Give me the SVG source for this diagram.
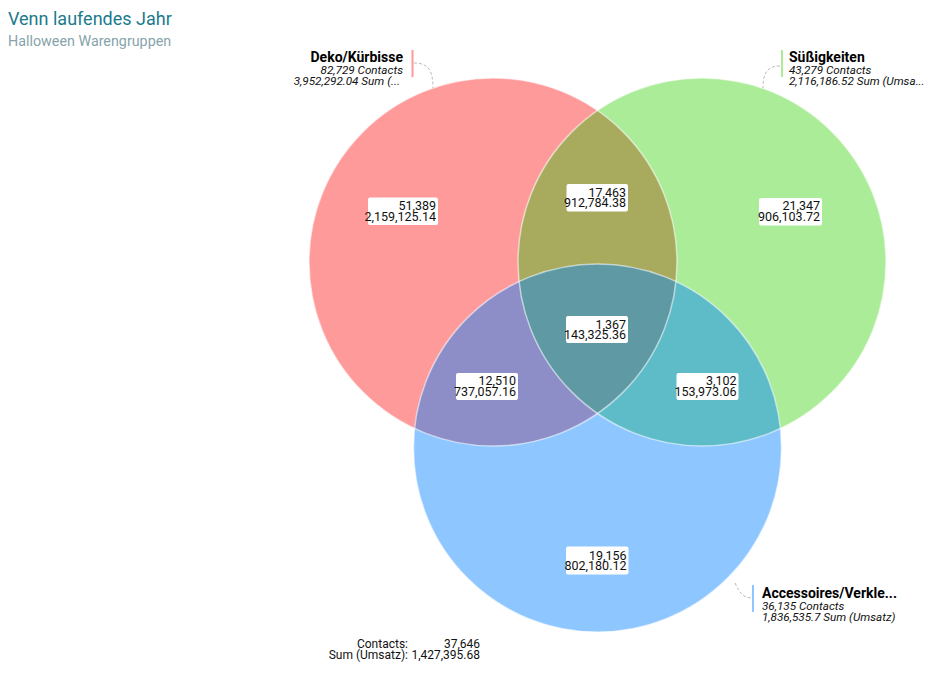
<svg xmlns="http://www.w3.org/2000/svg" width="945" height="675" viewBox="0 0 945 675">
<style>
text{font-family:Roboto,"Liberation Sans",sans-serif}
.title{font-size:18px;fill:#1b7a8c}
.sub{font-size:14.3px;fill:#86a4ab}
.box{fill:#fff}
.val{font-size:12.5px;fill:#111;text-anchor:end}
.lname{font-size:14px;font-weight:bold;fill:#000}
.lsub{font-size:11.7px;font-style:italic;fill:#111}
.outline{fill:none;stroke:#fff;stroke-opacity:0.55;stroke-width:1.5}
.conn{fill:none;stroke:#bbb;stroke-width:1;stroke-dasharray:3,2}
.foot{font-size:12px;fill:#111;text-anchor:end}
</style>
<rect width="945" height="675" fill="#fff"/>
<text class="title" x="8" y="25">Venn laufendes Jahr</text>
<text class="sub" x="8" y="46">Halloween Warengruppen</text>

<g id="venn-areas">
<circle id="set-deko" cx="493" cy="262" r="184" fill="#ff9a9a"/>
<circle id="set-suess" cx="702" cy="262" r="184" fill="#aaec97"/>
<circle id="set-acc" cx="597.5" cy="448" r="184" fill="#8ec6ff"/>
<path id="int-deko-suess" d="M597.5,110.6 A184,184 0 0 1 597.5,413.4 A184,184 0 0 1 597.5,110.6 Z" fill="#a8ab5e"/>
<path id="int-deko-acc" d="M675.9,281.6 A184,184 0 0 1 414.5,428.4 A184,184 0 0 1 675.9,281.6 Z" fill="#8d8dc8"/>
<path id="int-suess-acc" d="M519.1,281.6 A184,184 0 0 0 780.5,428.4 A184,184 0 0 0 519.1,281.6 Z" fill="#5ebcc9"/>
<path id="int-all" d="M519.1,281.6 A184,184 0 0 1 675.9,281.6 A184,184 0 0 1 597.5,413.4 A184,184 0 0 1 519.1,281.6 Z" fill="#5f99a3"/>
<circle class="outline" cx="493" cy="262" r="184"/>
<circle class="outline" cx="702" cy="262" r="184"/>
<circle class="outline" cx="597.5" cy="448" r="184"/>
</g>

<g id="connectors">
<path class="conn" d="M414,63 C428,63 433,70 433,88"/>
<path class="conn" d="M780,66 C768,66 763,72 763,88"/>
<path class="conn" d="M735,583 C740,594 744,598 752,598"/>
</g>

<g id="label-deko-only"><rect class="box" x="368" y="197.5" width="70" height="27.5" rx="2"/><text class="val" x="436" y="210">51,389</text><text class="val" x="436" y="220.5">2,159,125.14</text></g>
<g id="label-deko-suess"><rect class="box" x="566.5" y="184" width="61.5" height="27.5" rx="2"/><text class="val" x="626" y="196.5">17,463</text><text class="val" x="626" y="207">912,784.38</text></g>
<g id="label-suess-only"><rect class="box" x="759" y="198" width="63" height="27.5" rx="2"/><text class="val" x="820" y="210">21,347</text><text class="val" x="820" y="220.5">906,103.72</text></g>
<g id="label-all"><rect class="box" x="566" y="316" width="62" height="27" rx="2"/><text class="val" x="626" y="328.5">1,367</text><text class="val" x="626" y="339">143,325.36</text></g>
<g id="label-deko-acc"><rect class="box" x="456" y="373" width="62" height="27" rx="2"/><text class="val" x="516" y="385">12,510</text><text class="val" x="516" y="395.5">737,057.16</text></g>
<g id="label-suess-acc"><rect class="box" x="676.5" y="373" width="62" height="27" rx="2"/><text class="val" x="736.5" y="385">3,102</text><text class="val" x="736.5" y="395.5">153,973.06</text></g>
<g id="label-acc-only"><rect class="box" x="566" y="546.5" width="62.5" height="28" rx="2"/><text class="val" x="626.5" y="559.5">19,156</text><text class="val" x="626.5" y="570">802,180.12</text></g>

<g id="legend-deko">
<rect x="411.5" y="50" width="2" height="27" fill="#ff9a9a"/>
<text class="lname" x="403" y="62" text-anchor="end">Deko/Kürbisse</text>
<text class="lsub" x="403" y="73.5" text-anchor="end">82,729 Contacts</text>
<text class="lsub" x="400" y="85" text-anchor="end">3,952,292.04 Sum (...</text>
</g>
<g id="legend-suess">
<rect x="781" y="50" width="2" height="27" fill="#aaec97"/>
<text class="lname" x="789" y="62">Süßigkeiten</text>
<text class="lsub" x="789" y="73.5">43,279 Contacts</text>
<text class="lsub" x="789" y="85">2,116,186.52 Sum (Umsa...</text>
</g>
<g id="legend-acc">
<rect x="752" y="585" width="2" height="27" fill="#8ec6ff"/>
<text class="lname" x="762" y="598">Accessoires/Verkle...</text>
<text class="lsub" x="762" y="609.5">36,135 Contacts</text>
<text class="lsub" x="762" y="621">1,836,535.7 Sum (Umsatz)</text>
</g>

<g id="footer">
<text class="foot" x="408" y="648">Contacts:</text>
<text class="foot" x="480" y="648">37,646</text>
<text class="foot" x="408" y="659">Sum (Umsatz):</text>
<text class="foot" x="480" y="659">1,427,395.68</text>
</g>
</svg>
